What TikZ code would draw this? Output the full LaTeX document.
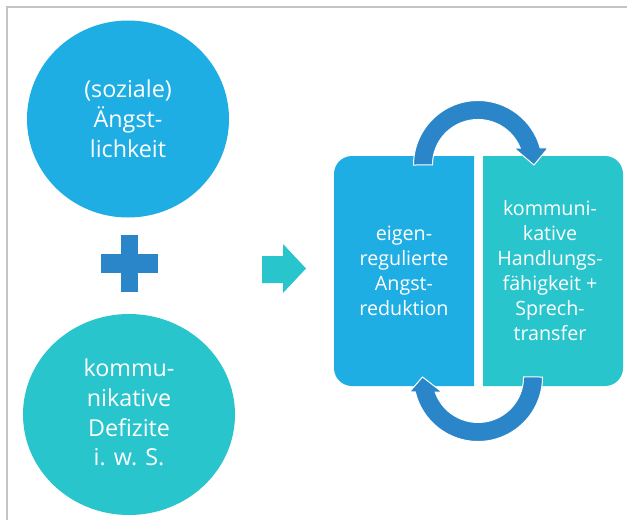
\documentclass[tikz,border=0pt]{standalone}
\usepackage{fontspec}
\setmainfont{Open Sans}
\usetikzlibrary{shapes.geometric}
\definecolor{cblue}{HTML}{1FAEE3}
\definecolor{cteal}{HTML}{29C5CC}
\definecolor{cdark}{HTML}{2A86C8}
\definecolor{cgray}{HTML}{C4C4C4}
\tikzset{
  txt/.style={text=white, align=center, inner sep=0pt},
  bigtxt/.style={txt, font=\fontsize{23.3}{29.8}\selectfont},
  boxtxt/.style={txt, font=\fontsize{19.7}{25}\selectfont},
  disc/.style={ellipse, inner sep=0pt},
  cyc/.style={fill=cdark, draw=white, line width=1pt, line join=miter},
}
\begin{document}
\begin{tikzpicture}[x=1pt,y=1pt]
\useasboundingbox (0,0) rectangle (627,-520);
\fill[white] (0,0) rectangle (627,-520);
% frame
\draw[cgray, line width=2pt] (627,-6.5) -- (7,-6.5) -- (7,-520);
% circles
\node[disc, fill=cblue, minimum width=202pt, minimum height=197pt] (c1) at (128,-119) {};
\node[bigtxt] (t1) at (128,-119) {(soziale)\\Ängst-\\lichkeit};
\node[disc, fill=cteal, minimum width=212pt, minimum height=201pt] (c2) at (129,-414.5) {};
\node[bigtxt] (t2) at (129,-412.5) {kommu-\\nikative\\Defizite\\i. w. S.};
% plus
\fill[cdark] (121,-235) rectangle (138,-292);
\fill[cdark] (101,-254) rectangle (158,-273);
% right arrow
\fill[cteal] (262,-256) -- (283,-256) -- (283,-244) -- (306,-268.5) -- (283,-293) -- (283,-283) -- (262,-283) -- cycle;
% boxes
\fill[cblue] (474,-156) -- (352,-156) arc[start angle=90,end angle=180,radius=18] -- (334,-368) arc[start angle=180,end angle=270,radius=18] -- (474,-386) -- cycle;
\fill[cteal] (483,-156) -- (605,-156) arc[start angle=90,end angle=0,radius=18] -- (623,-368) arc[start angle=0,end angle=-90,radius=18] -- (483,-386) -- cycle;
\node[boxtxt] (b1) at (404,-271) {eigen-\\regulierte\\Angst-\\reduktion};
\node[boxtxt] (b2) at (550,-270.5) {kommuni-\\kative\\Handlungs-\\fähigkeit +\\Sprech-\\transfer};
% cycle arrows
\filldraw[cyc] (413.5,-165) arc[start angle=180,end angle=15.3,radius=64.5]
  -- (548,-148) -- (534,-165) -- (514,-148) -- (520.2,-148)
  arc[start angle=21.9,end angle=180,radius=45.5] -- cycle;
\filldraw[cyc] (542.5,-377) arc[start angle=0,end angle=-166.6,radius=64.5]
  -- (409.5,-392) -- (422.5,-377) -- (442,-392) -- (435.1,-392)
  arc[start angle=-160.7,end angle=0,radius=45.5] -- cycle;
\end{tikzpicture}
\end{document}
